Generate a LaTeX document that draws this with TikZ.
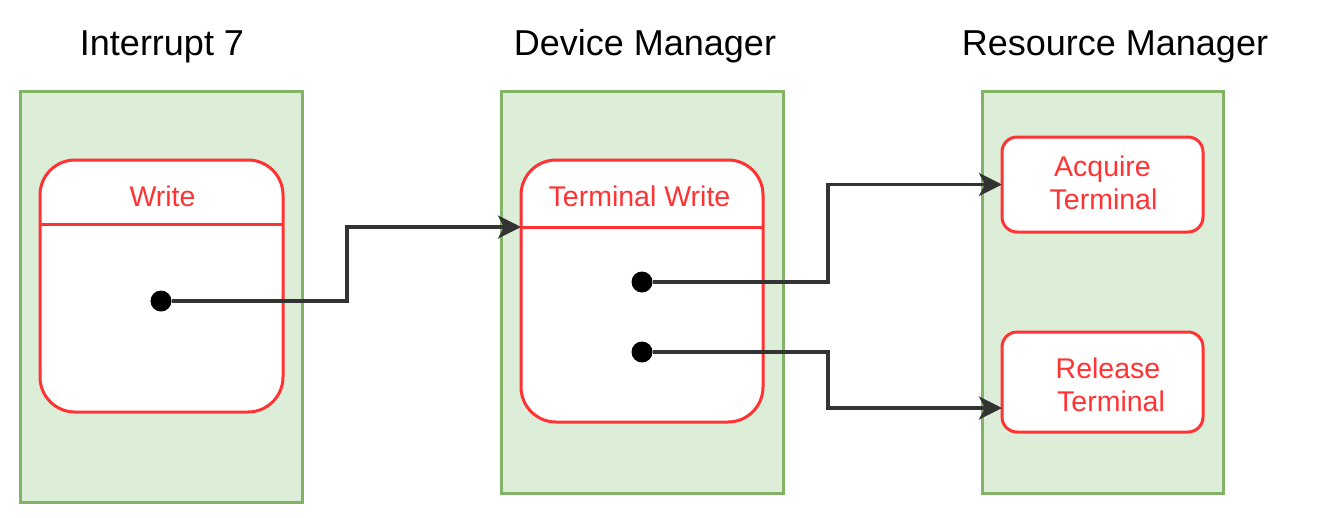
\documentclass[tikz,border=0pt]{standalone}
\usepackage{fontspec}
\setmainfont{Liberation Sans}
\usetikzlibrary{arrows.meta}
\definecolor{gfill}{HTML}{DDEED8}
\definecolor{gline}{HTML}{82B366}
\definecolor{rline}{HTML}{FF3333}
\definecolor{aline}{HTML}{333333}
\begin{document}
\begin{tikzpicture}[x=1pt,y=-1pt,
  lane/.style={draw=gline, fill=gfill, line width=3pt, inner sep=0pt, outer sep=0pt},
  statebox/.style={draw=rline, fill=white, line width=3pt, rounded corners=35pt, inner sep=0pt, outer sep=0pt},
  actbox/.style={draw=rline, fill=white, line width=3pt, rounded corners=15pt, inner sep=0pt, outer sep=0pt},
  title/.style={anchor=base, font=\fontsize{36}{42}\selectfont, text=black, inner sep=0pt},
  rtext/.style={anchor=base, font=\fontsize{28.5}{33}\selectfont, text=rline, inner sep=0pt, align=center},
  dot/.style={circle, fill=black, minimum size=21pt, inner sep=0pt, outer sep=0pt},
  arr/.style={draw=aline, line width=3.5pt, -{Stealth[length=23pt,width=23pt,inset=6pt]}}
]
\useasboundingbox (0,0) rectangle (1340,517);

% titles
\node[title] (t1) at (162,55) {Interrupt 7};
\node[title] (t2) at (645,55) {Device Manager};
\node[title] (t3) at (1115,55) {Resource Manager};

% lanes
\node[lane, minimum width=282pt, minimum height=411pt] (lane1) at (161,296.5) {};
\node[lane, minimum width=282pt, minimum height=402pt] (lane2) at (642,292) {};
\node[lane, minimum width=241pt, minimum height=402pt] (lane3) at (1102.5,292) {};

% state boxes
\node[statebox, minimum width=243pt, minimum height=252pt] (write) at (161.5,286) {};
\draw[draw=rline, line width=3pt] (write.west |- 0,224) -- (write.east |- 0,224);
\node[rtext] (wlabel) at (162.5,206) {Write};

\node[statebox, minimum width=242pt, minimum height=262pt] (tw) at (642,291) {};
\draw[draw=rline, line width=3pt] (tw.west |- 0,227) -- (tw.east |- 0,227);
\node[rtext] (twlabel) at (639.5,206) {Terminal Write};

% action boxes
\node[actbox, minimum width=201pt, minimum height=95pt] (acq) at (1102.5,184.5) {};
\node[rtext] (acqlabel) at (1102.5,176) {Acquire};
\node[rtext] (acqlabel2) at (1103.5,209) {Terminal};
\node[actbox, minimum width=201pt, minimum height=100pt] (rel) at (1102.5,382) {};
\node[rtext] (rellabel) at (1108,378) {Release};
\node[rtext] (rellabel2) at (1111,411) {Terminal};

% dots
\node[dot] (d1) at (161,301) {};
\node[dot] (d2) at (642,282) {};
\node[dot] (d3) at (642,352) {};

% connectors
\coordinate (twin) at (tw.west |- 0,227);
\coordinate (relin) at (rel.west |- 0,408);
\draw[arr] (d1) -- (347,301) |- (twin);
\draw[arr] (d2) -- (828,282) |- (acq.west);
\draw[arr] (d3) -- (828,352) |- (relin);
\end{tikzpicture}
\end{document}
